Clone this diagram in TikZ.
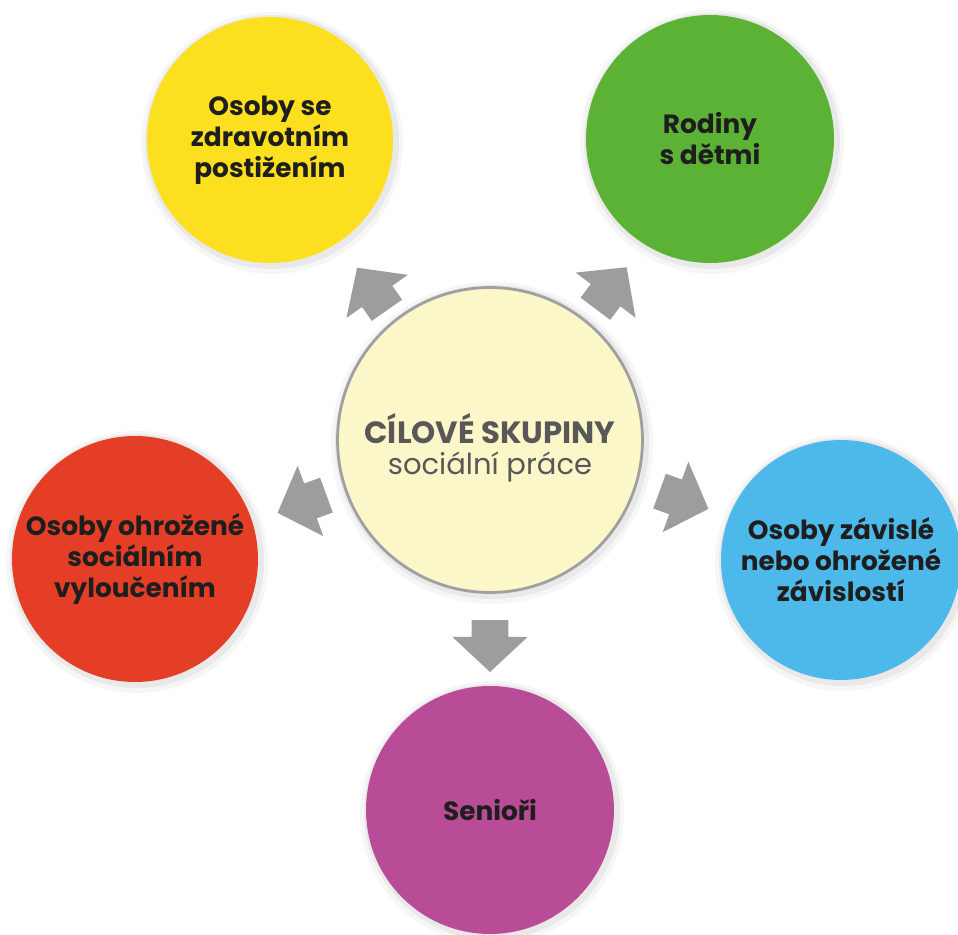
\documentclass[tikz,border=0pt]{standalone}
\usepackage{fontspec}
\setmainfont{Poppins}
\definecolor{cyellow}{HTML}{FCDF1E}
\definecolor{cgreen}{HTML}{5BB234}
\definecolor{cred}{HTML}{E53E26}
\definecolor{cblue}{HTML}{4DB9EA}
\definecolor{cmag}{HTML}{B94C97}
\definecolor{ccenter}{HTML}{FBF7C9}
\definecolor{cborder}{HTML}{A0A0A0}
\definecolor{carrow}{HTML}{9D9D9D}
\definecolor{ctext}{HTML}{1E1E1E}
\definecolor{ctitle}{HTML}{585858}
\tikzset{
  outer/.style={circle, inner sep=0pt, minimum size=4.9cm, text=ctext, align=center,
    font=\fontsize{15}{17.6}\selectfont\bfseries},
  bigarrow/.style={fill=carrow, draw=none},
}
\newcommand\blockarrow[2]{%
  \fill[bigarrow, shift={(#1)}, rotate=#2]
    (0.52cm,0cm) -- (-0.18cm,0.75cm) -- (-0.18cm,0.37cm) -- (-0.52cm,0.37cm)
    -- (-0.52cm,-0.37cm) -- (-0.18cm,-0.37cm) -- (-0.18cm,-0.75cm) -- cycle;}
\begin{document}
\begin{tikzpicture}[x=0.02cm, y=-0.02cm]
\useasboundingbox (0,0) rectangle (958,935);
\fill[white] (0,0) rectangle (958,935);
% soft shadows
\foreach \cx/\cy/\r in {270/140/123, 710/139/124, 135/559/123, 841/560/120, 490/810/124, 490/440/153}{
  \fill[black, opacity=0.035] (\cx+2,\cy+3) circle (\r+8);
  \fill[black, opacity=0.05] (\cx+2,\cy+2) circle (\r+4);
}
\node[outer, fill=cyellow, minimum size=4.92cm] (health) at (270,140) {Osoby se\\zdravotním\\postižením};
\node[outer, fill=cgreen, minimum size=4.96cm] (family) at (710,139) {Rodiny\\s dětmi};
\node[outer, fill=cred, minimum size=4.92cm] (exclusion) at (135,559) {Osoby ohrožené\\sociálním\\vyloučením};
\node[outer, fill=cblue, minimum size=4.8cm] (dependent) at (841,560) {Osoby závislé\\nebo ohrožené\\závislostí};
\node[outer, fill=cmag, minimum size=4.96cm] (seniors) at (490,810) {Senioři};
\node[circle, fill=ccenter, draw=cborder, line width=1.6pt, minimum size=6.1cm, inner sep=0pt,
  text=ctitle, font=\fontsize{17.5}{16}\selectfont] (center) at (490,440)
  {\raisebox{-9pt}[0pt][0pt]{\begin{tabular}{@{}c@{}}{\bfseries CÍLOVÉ SKUPINY}\\{\fontsize{16.5}{16}\selectfont sociální práce}\end{tabular}}};
\coordinate (a1) at (372,289);
\coordinate (a2) at (611,288);
\coordinate (a3) at (302,504);
\coordinate (a4) at (684,500);
\coordinate (a5) at (490,646);
\blockarrow{a1}{125}
\blockarrow{a2}{53}
\blockarrow{a3}{200}
\blockarrow{a4}{-20}
\blockarrow{a5}{-90}
\end{tikzpicture}
\end{document}
